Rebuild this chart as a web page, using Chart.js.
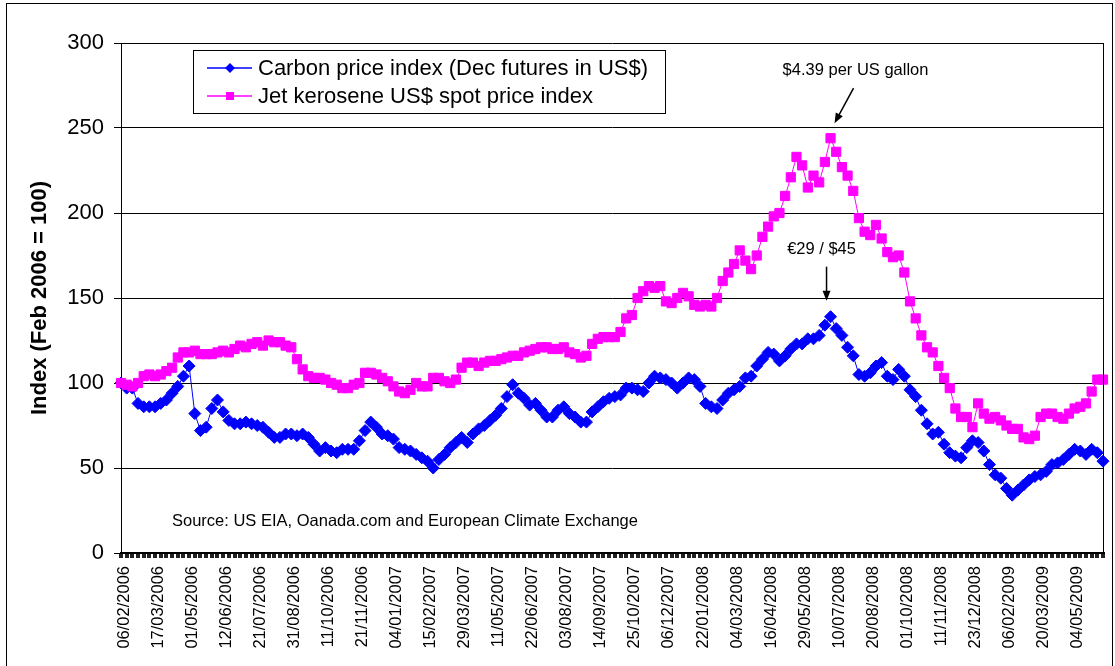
<!DOCTYPE html>
<html lang="en">
<head>
<meta charset="UTF-8">
<title>Carbon price vs jet kerosene price index</title>
<script src="https://cdn.jsdelivr.net/npm/chart.js@4.4.0/dist/chart.umd.min.js"></script>
<style>
  body { margin: 0; background: #fff; }
</style>
</head>
<body>
<canvas id="myChart" width="1115" height="666"></canvas>
<script>
// tick labels shown on the x axis (one every 6 points)
const tickLabels = ['06/02/2006','17/03/2006','01/05/2006','12/06/2006','21/07/2006','31/08/2006',
  '11/10/2006','21/11/2006','04/01/2007','15/02/2007','29/03/2007','11/05/2007','22/06/2007',
  '03/08/2007','14/09/2007','25/10/2007','06/12/2007','22/01/2008','04/03/2008','16/04/2008',
  '29/05/2008','10/07/2008','20/08/2008','01/10/2008','11/11/2008','23/12/2008','06/02/2009',
  '20/03/2009','04/05/2009'];
const stepsPerTick = 6;

// Carbon price index (Dec futures in US$)
const carbon = [100,97,97,88,86,86,86,88,90,94,98,104,110,
  82,72,74,85,90,83,78,
  76,76,77,76,75,74,71,68,68,
  70,70,69,70,68,64,60,62,60,59,61,61,61,
  66,72,77,74,70,69,67,62,61,60,58,56,54,50,
  55,58,62,65,68,65,70,73,75,78,81,85,92,99,
  94,91,87,88,84,80,80,84,86,82,80,77,77,83,86,89,91,92,93,
  97,97,96,95,100,104,103,102,100,97,100,103,102,98,
  88,86,85,90,94,96,98,103,104,110,114,118,117,113,
  116,120,123,123,126,126,128,134,139,132,128,121,116,
  105,104,106,110,112,104,102,108,104,96,92,84,76,
  70,71,64,59,57,56,62,66,65,60,52,46,44,38,34,
  37,40,43,45,46,48,52,53,55,58,61,60,58,61,59,54];

// Jet kerosene US$ spot price index
const jet = [100,99,98,100,104,105,104,105,107,109,
  115,118,118,119,117,117,117,118,119,118,
  120,122,121,123,124,122,125,124,124,122,
  121,114,108,104,103,103,102,100,99,97,
  97,99,100,106,106,105,103,101,98,95,
  94,96,100,98,98,103,103,101,100,102,
  109,112,112,110,112,113,113,114,115,116,
  116,118,119,120,121,121,120,120,121,118,
  117,115,116,123,126,127,127,127,130,138,
  140,150,154,157,156,157,148,147,150,153,
  151,146,145,146,145,150,160,165,170,178,
  172,167,175,186,192,198,200,210,221,233,
  228,215,222,218,230,244,236,227,222,213,
  197,189,187,193,185,177,174,175,165,148,
  138,128,121,118,110,103,97,85,80,80,
  74,88,82,79,80,78,75,73,73,68,
  67,69,80,82,82,80,79,82,85,86,
  88,95,102,102];

const labels = carbon.map((v, i) => i % stepsPerTick === 0 ? tickLabels[i / stepsPerTick] : '');

const FONT = "'Liberation Sans', Arial, sans-serif";
Chart.defaults.font.family = FONT;
Chart.defaults.color = '#000';

function arrow(ctx, x1, y1, x2, y2) {
  const a = Math.atan2(y2 - y1, x2 - x1);
  ctx.beginPath();
  ctx.moveTo(x1, y1);
  ctx.lineTo(x2 - Math.cos(a) * 8, y2 - Math.sin(a) * 8);
  ctx.stroke();
  ctx.beginPath();
  ctx.moveTo(x2, y2);
  ctx.lineTo(x2 - Math.cos(a) * 10 - Math.sin(a) * 4, y2 - Math.sin(a) * 10 + Math.cos(a) * 4);
  ctx.lineTo(x2 - Math.cos(a) * 10 + Math.sin(a) * 4, y2 - Math.sin(a) * 10 - Math.cos(a) * 4);
  ctx.closePath();
  ctx.fill();
}

// frame, legend box, notes
const extras = {
  id: 'extras',
  afterDraw(chart) {
    const ctx = chart.ctx, area = chart.chartArea;
    const xs = chart.scales.x, ys = chart.scales.y;
    ctx.save();
    ctx.strokeStyle = '#000';
    ctx.fillStyle = '#000';
    ctx.lineWidth = 1;

    // right edge of the plot and outer frame
    ctx.beginPath();
    ctx.moveTo(area.right + 0.5, area.top);
    ctx.lineTo(area.right + 0.5, area.bottom);
    ctx.stroke();
    ctx.strokeRect(6.5, 3.5, 1106, 700);

    // legend
    ctx.fillStyle = '#fff';
    ctx.fillRect(193, 50, 473, 63);
    ctx.strokeRect(193.5, 50.5, 472, 63);
    ctx.font = '22px ' + FONT;
    ctx.textBaseline = 'middle';
    ctx.textAlign = 'left';
    const rows = [
      { y: 68, color: '#0000FF', text: 'Carbon price index (Dec futures in US$)', diamond: true },
      { y: 96, color: '#FF00FF', text: 'Jet kerosene US$ spot price index', diamond: false }
    ];
    rows.forEach(r => {
      ctx.strokeStyle = r.color;
      ctx.fillStyle = r.color;
      ctx.lineWidth = 1.5;
      ctx.beginPath();
      ctx.moveTo(207, r.y);
      ctx.lineTo(252, r.y);
      ctx.stroke();
      ctx.beginPath();
      if (r.diamond) {
        ctx.moveTo(230, r.y - 5); ctx.lineTo(235, r.y); ctx.lineTo(230, r.y + 5); ctx.lineTo(225, r.y);
      } else {
        ctx.rect(226, r.y - 4, 8, 8);
      }
      ctx.closePath();
      ctx.fill();
      ctx.fillStyle = '#000';
      ctx.fillText(r.text, 258, r.y + 1);
    });

    // peak notes
    ctx.strokeStyle = '#000';
    ctx.fillStyle = '#000';
    ctx.lineWidth = 1.5;
    ctx.font = '16.5px ' + FONT;
    ctx.textAlign = 'center';
    const jp = jet.indexOf(Math.max(...jet));
    const jx = xs.getPixelForValue(jp), jy = ys.getPixelForValue(jet[jp]);
    ctx.fillText('$4.39 per US gallon', jx + 25, jy - 68);
    arrow(ctx, jx + 23, jy - 50, jx + 4, jy - 15);

    const cp = carbon.indexOf(Math.max(...carbon));
    const cx = xs.getPixelForValue(cp), cy = ys.getPixelForValue(carbon[cp]);
    ctx.fillText('\u20AC29 / $45', cx - 9, cy - 67);
    arrow(ctx, cx - 4, cy - 50, cx - 4, cy - 16);

    ctx.textAlign = 'left';
    ctx.fillText('Source: US EIA, Oanada.com and European Climate Exchange', 172, 521);
    ctx.restore();
  }
};

const ctx = document.getElementById('myChart').getContext('2d');
const myChart = new Chart(ctx, {
  type: 'line',
  data: {
    labels: labels,
    datasets: [{
      label: 'Carbon price index (Dec futures in US$)',
      data: carbon,
      borderColor: '#0000FF',
      backgroundColor: '#0000FF',
      borderWidth: 1,
      pointStyle: 'rectRot',
      pointRadius: 6,
      pointBorderWidth: 1,
      clip: false,
      order: 1
    }, {
      label: 'Jet kerosene US$ spot price index',
      data: jet,
      borderColor: '#FF00FF',
      backgroundColor: '#FF00FF',
      borderWidth: 1,
      pointStyle: 'rect',
      pointRadius: 6.5,
      pointBorderWidth: 1,
      clip: false,
      order: 0
    }]
  },
  options: {
    responsive: false,
    animation: false,
    layout: { padding: { left: 0, top: 43, right: 12, bottom: 0 } },
    plugins: {
      legend: { display: false },
      tooltip: { enabled: false }
    },
    scales: {
      x: {
        type: 'category',
        offset: false,
        afterFit(scale) {
          scale.height = 113;
          scale.paddingLeft = 0;
          scale.paddingRight = 0;
        },
        grid: {
          drawOnChartArea: false,
          drawTicks: true,
          tickLength: 5,
          color: '#222',
          lineWidth: 4
        },
        border: { color: '#000', width: 2 },
        ticks: {
          autoSkip: false,
          maxRotation: 90,
          minRotation: 90,
          padding: 8,
          labelOffset: 3,
          font: { size: 16.5 },
          callback: function (v, i) { return labels[i]; }
        }
      },
      y: {
        min: 0,
        max: 300,
        afterFit(scale) { scale.width = 121; },
        grid: { color: '#000', lineWidth: 1, tickLength: 7 },
        border: { color: '#000', width: 1 },
        ticks: { stepSize: 50, padding: 10, font: { size: 22 } },
        title: {
          display: true,
          text: 'Index (Feb 2006 = 100)',
          font: { size: 22, weight: 'bold' },
          padding: { top: 27, bottom: 0 }
        }
      }
    }
  },
  plugins: [extras]
});
</script>
</body>
</html>
